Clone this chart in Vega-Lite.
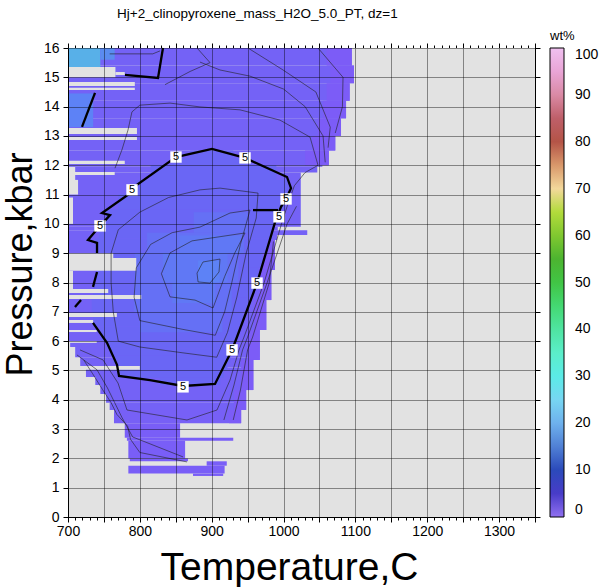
{
"$schema": "https://vega.github.io/schema/vega-lite/v6.json",
"width": 467, "height": 469,
"autosize": {"type": "none"},
"padding": {"left": 68, "top": 48, "right": 67, "bottom": 70},
"background": "white",
"view": {"fill": "#e2e2e2", "stroke": "#000", "strokeWidth": 1},
"title": {"text": "Hj+2_clinopyroxene_mass_H2O_5.0_PT, dz=1", "anchor": "start", "frame": "group", "dx": 49, "offset": -1, "fontSize": 13.5, "font": "Liberation Sans", "fontWeight": "normal", "baseline": "alphabetic", "color": "#000"},
"config": {
  "view": {"fill": "#e2e2e2", "stroke": "#000", "strokeWidth": 1},
  "axis": {"domainColor": "#000", "tickColor": "#000", "labelColor": "#000", "titleColor": "#000", "labelFont": "Liberation Sans", "titleFont": "Liberation Sans", "titleFontWeight": "normal", "labelFontSize": 14, "labelFlush": false, "labelOverlap": false, "gridColor": "#000", "gridOpacity": 0.42}
},
"datasets": {
  "fills": [
    {"t0":700,"t1":1350,"p0":0,"p1":16,"z":-1},
    {"t0":700,"t1":1095,"p0":15.4,"p1":16,"z":3.5},
    {"t0":700,"t1":1098,"p0":14.8,"p1":15.4,"z":3.5},
    {"t0":700,"t1":1092,"p0":14.2,"p1":14.8,"z":3.5},
    {"t0":700,"t1":1087,"p0":13.6,"p1":14.2,"z":3.5},
    {"t0":700,"t1":1080,"p0":13.0,"p1":13.6,"z":3.5},
    {"t0":700,"t1":1072,"p0":12.5,"p1":13.0,"z":3.5},
    {"t0":700,"t1":1063,"p0":12.0,"p1":12.5,"z":3.5},
    {"t0":700,"t1":1054,"p0":11.95,"p1":12.0,"z":3.5},
    {"t0":700,"t1":1047,"p0":11.75,"p1":11.95,"z":3.5},
    {"t0":700,"t1":1024,"p0":9.9,"p1":11.75,"z":3.5},
    {"t0":700,"t1":992,"p0":9.78,"p1":9.9,"z":3.5},
    {"t0":700,"t1":1033,"p0":9.62,"p1":9.78,"z":3.5},
    {"t0":700,"t1":991,"p0":9.45,"p1":9.62,"z":3.5},
    {"t0":700,"t1":988,"p0":8.43,"p1":9.45,"z":3.5},
    {"t0":700,"t1":983,"p0":7.4,"p1":8.43,"z":3.5},
    {"t0":700,"t1":976,"p0":6.38,"p1":7.4,"z":3.5},
    {"t0":700,"t1":967,"p0":6.0,"p1":6.38,"z":3.5},
    {"t0":703,"t1":967,"p0":5.8,"p1":6.0,"z":3.5},
    {"t0":710,"t1":967,"p0":5.45,"p1":5.8,"z":3.5},
    {"t0":717,"t1":967,"p0":5.36,"p1":5.45,"z":3.5},
    {"t0":717,"t1":958,"p0":5.1,"p1":5.36,"z":3.5},
    {"t0":725,"t1":958,"p0":4.78,"p1":5.1,"z":3.5},
    {"t0":738,"t1":958,"p0":4.5,"p1":4.78,"z":3.5},
    {"t0":745,"t1":958,"p0":4.33,"p1":4.5,"z":3.5},
    {"t0":745,"t1":948,"p0":4.2,"p1":4.33,"z":3.5},
    {"t0":753,"t1":948,"p0":3.9,"p1":4.2,"z":3.5},
    {"t0":758,"t1":948,"p0":3.65,"p1":3.9,"z":3.5},
    {"t0":764,"t1":941,"p0":3.2,"p1":3.65,"z":3},
    {"t0":779,"t1":856,"p0":2.7,"p1":3.2,"z":2.5},
    {"t0":782,"t1":930,"p0":2.6,"p1":2.7,"z":2.5},
    {"t0":784,"t1":863,"p0":2.0,"p1":2.6,"z":2.5},
    {"t0":786,"t1":867,"p0":1.9,"p1":2.0,"z":2.5},
    {"t0":893,"t1":921,"p0":1.75,"p1":1.9,"z":2.5},
    {"t0":784,"t1":918,"p0":1.48,"p1":1.75,"z":2.5},
    {"t0":874,"t1":916,"p0":1.4,"p1":1.48,"z":2.5},
    {"t0":971,"t1":988,"p0":8.43,"p1":9.45,"z":2},
    {"t0":966,"t1":983,"p0":7.4,"p1":8.43,"z":2},
    {"t0":959,"t1":976,"p0":6.38,"p1":7.4,"z":2},
    {"t0":950,"t1":967,"p0":5.36,"p1":6.38,"z":2},
    {"t0":941,"t1":958,"p0":4.33,"p1":5.36,"z":2},
    {"t0":931,"t1":948,"p0":3.65,"p1":4.33,"z":2},
    {"t0":924,"t1":941,"p0":3.2,"p1":3.65,"z":2},
    {"t0":1060,"t1":1095,"p0":15.4,"p1":16,"z":2},
    {"t0":1065,"t1":1098,"p0":14.8,"p1":15.4,"z":2},
    {"t0":1060,"t1":1092,"p0":14.2,"p1":14.8,"z":2},
    {"t0":1055,"t1":1087,"p0":13.6,"p1":14.2,"z":2},
    {"t0":1048,"t1":1080,"p0":13.0,"p1":13.6,"z":2},
    {"t0":1040,"t1":1072,"p0":12.5,"p1":13.0,"z":2},
    {"t0":1030,"t1":1063,"p0":12.0,"p1":12.5,"z":2},
    {"t0":828,"t1":912,"p0":4.5,"p1":4.75,"z":6},
    {"t0":772,"t1":917,"p0":4.75,"p1":5.0,"z":6},
    {"t0":768,"t1":922,"p0":5.0,"p1":5.25,"z":6},
    {"t0":763,"t1":926,"p0":5.25,"p1":5.5,"z":6},
    {"t0":758,"t1":929,"p0":5.5,"p1":5.75,"z":6},
    {"t0":754,"t1":932,"p0":5.75,"p1":6.0,"z":6},
    {"t0":745,"t1":937,"p0":6.0,"p1":6.5,"z":6},
    {"t0":735,"t1":944,"p0":6.5,"p1":7.0,"z":6},
    {"t0":733,"t1":951,"p0":7.0,"p1":7.5,"z":6},
    {"t0":735,"t1":958,"p0":7.5,"p1":8.0,"z":6},
    {"t0":740,"t1":965,"p0":8.0,"p1":8.5,"z":6},
    {"t0":740,"t1":971,"p0":8.5,"p1":9.0,"z":6},
    {"t0":738,"t1":978,"p0":9.0,"p1":9.5,"z":6},
    {"t0":743,"t1":985,"p0":9.5,"p1":10.0,"z":6},
    {"t0":753,"t1":993,"p0":10.0,"p1":10.5,"z":6},
    {"t0":770,"t1":1002,"p0":10.5,"p1":11.0,"z":6},
    {"t0":793,"t1":1007,"p0":11.0,"p1":11.5,"z":6},
    {"t0":815,"t1":990,"p0":11.5,"p1":12.0,"z":6},
    {"t0":843,"t1":955,"p0":12.0,"p1":12.25,"z":6},
    {"t0":870,"t1":930,"p0":12.25,"p1":12.5,"z":6},
    {"t0":800,"t1":915,"p0":6.3,"p1":7.0,"z":7.5},
    {"t0":792,"t1":928,"p0":7.0,"p1":8.0,"z":7.5},
    {"t0":793,"t1":937,"p0":8.0,"p1":9.0,"z":7.5},
    {"t0":810,"t1":945,"p0":9.0,"p1":9.7,"z":7.5},
    {"t0":875,"t1":950,"p0":9.7,"p1":10.4,"z":7.5},
    {"t0":845,"t1":905,"p0":7.3,"p1":8.0,"z":9},
    {"t0":832,"t1":922,"p0":8.0,"p1":9.0,"z":9},
    {"t0":855,"t1":940,"p0":9.0,"p1":9.6,"z":9},
    {"t0":881,"t1":911,"p0":8.0,"p1":8.75,"z":10},
    {"t0":700,"t1":745,"p0":15.35,"p1":16,"z":18},
    {"t0":745,"t1":765,"p0":15.6,"p1":16,"z":12},
    {"t0":700,"t1":735,"p0":13.3,"p1":14.45,"z":10},
    {"t0":700,"t1":766,"p0":15.0,"p1":15.35,"z":-1},
    {"t0":766,"t1":779,"p0":15.08,"p1":15.18,"z":-1},
    {"t0":700,"t1":793,"p0":14.7,"p1":14.84,"z":-1},
    {"t0":700,"t1":793,"p0":14.57,"p1":14.64,"z":-1},
    {"t0":700,"t1":796,"p0":13.07,"p1":13.27,"z":-1},
    {"t0":700,"t1":796,"p0":12.86,"p1":12.96,"z":-1},
    {"t0":700,"t1":779,"p0":12.04,"p1":12.15,"z":-1},
    {"t0":700,"t1":765,"p0":11.67,"p1":11.77,"z":-1},
    {"t0":700,"t1":710,"p0":11.15,"p1":11.94,"z":-1},
    {"t0":700,"t1":714,"p0":11.0,"p1":11.5,"z":-1},
    {"t0":700,"t1":707,"p0":10.0,"p1":10.9,"z":-1},
    {"t0":700,"t1":763,"p0":8.84,"p1":9.0,"z":-1},
    {"t0":700,"t1":795,"p0":8.4,"p1":8.84,"z":-1},
    {"t0":700,"t1":707,"p0":7.75,"p1":8.4,"z":-1},
    {"t0":700,"t1":756,"p0":7.64,"p1":7.78,"z":-1},
    {"t0":700,"t1":802,"p0":7.44,"p1":7.57,"z":-1},
    {"t0":700,"t1":768,"p0":6.82,"p1":6.96,"z":-1},
    {"t0":700,"t1":735,"p0":6.62,"p1":6.72,"z":-1},
    {"t0":700,"t1":740,"p0":6.31,"p1":6.38,"z":-1},
    {"t0":700,"t1":740,"p0":5.94,"p1":6.0,"z":-1},
    {"t0":700,"t1":800,"p0":5.02,"p1":5.15,"z":-1}
  ],
  "thin": [
    {"c":"a","o":1,"T":887.9,"P":8.70},{"c":"a","o":2,"T":911.6,"P":8.80},{"c":"a","o":3,"T":910.2,"P":8.36},{"c":"a","o":4,"T":897.7,"P":7.98},{"c":"a","o":5,"T":881,"P":8.02},{"c":"a","o":6,"T":879.6,"P":8.32},{"c":"a","o":7,"T":887.9,"P":8.70},
    {"c":"c8","o":1,"T":842,"P":9.01},{"c":"c8","o":2,"T":872.6,"P":9.42},{"c":"c8","o":3,"T":946.4,"P":9.69},{"c":"c8","o":4,"T":932,"P":9.0},{"c":"c8","o":5,"T":918,"P":8.2},{"c":"c8","o":6,"T":901.8,"P":7.13},{"c":"c8","o":7,"T":876.8,"P":7.40},{"c":"c8","o":8,"T":842,"P":7.51},{"c":"c8","o":9,"T":830,"P":8.3},{"c":"c8","o":10,"T":842,"P":9.01},
    {"c":"c7","o":1,"T":800,"P":6.7},{"c":"c7","o":2,"T":860,"P":6.4},{"c":"c7","o":3,"T":905,"P":6.2},{"c":"c7","o":4,"T":918,"P":7.0},{"c":"c7","o":5,"T":928,"P":8.0},{"c":"c7","o":6,"T":940,"P":9.3},{"c":"c7","o":7,"T":953.3,"P":10.47},{"c":"c7","o":8,"T":925.5,"P":10.37},{"c":"c7","o":9,"T":883.7,"P":9.89},{"c":"c7","o":10,"T":845,"P":9.7},{"c":"c7","o":11,"T":815,"P":9.3},{"c":"c7","o":12,"T":795,"P":8.5},{"c":"c7","o":13,"T":792,"P":7.5},{"c":"c7","o":14,"T":800,"P":6.7},
    {"c":"c6","o":1,"T":770,"P":6.0},{"c":"c6","o":2,"T":800,"P":5.8},{"c":"c6","o":3,"T":860,"P":5.6},{"c":"c6","o":4,"T":907,"P":5.45},{"c":"c6","o":5,"T":922,"P":6.3},{"c":"c6","o":6,"T":935,"P":7.5},{"c":"c6","o":7,"T":948,"P":9.0},{"c":"c6","o":8,"T":962,"P":10.2},{"c":"c6","o":9,"T":964.5,"P":11.05},{"c":"c6","o":10,"T":911.6,"P":11.22},{"c":"c6","o":11,"T":883.7,"P":11.16},{"c":"c6","o":12,"T":840,"P":10.9},{"c":"c6","o":13,"T":800,"P":10.4},{"c":"c6","o":14,"T":770,"P":9.8},{"c":"c6","o":15,"T":760,"P":9.0},{"c":"c6","o":16,"T":760,"P":8.0},{"c":"c6","o":17,"T":763,"P":7.0},{"c":"c6","o":18,"T":770,"P":6.0},
    {"c":"c4","o":1,"T":716.7,"P":5.70},{"c":"c4","o":2,"T":748.7,"P":5.36},{"c":"c4","o":3,"T":769.6,"P":4.57},{"c":"c4","o":4,"T":782.1,"P":3.65},{"c":"c4","o":5,"T":865.6,"P":3.31},{"c":"c4","o":6,"T":907.4,"P":3.65},{"c":"c4","o":7,"T":925.5,"P":4.67},{"c":"c4","o":8,"T":938,"P":5.70},{"c":"c4","o":9,"T":945,"P":6.14},{"c":"c4","o":10,"T":972.8,"P":7.98},{"c":"c4","o":11,"T":997.9,"P":10.06},{"c":"c4","o":12,"T":1005,"P":10.6},{"c":"c4","o":13,"T":1015,"P":11.3},{"c":"c4","o":14,"T":1030,"P":11.75},{"c":"c4","o":15,"T":1048,"P":12.0},{"c":"c4","o":16,"T":1036.9,"P":12.96},{"c":"c4","o":17,"T":995,"P":13.54},{"c":"c4","o":18,"T":939.4,"P":13.89},{"c":"c4","o":19,"T":883.7,"P":13.99},{"c":"c4","o":20,"T":842,"P":14.12},{"c":"c4","o":21,"T":800,"P":14.05},{"c":"c4","o":22,"T":789,"P":13.82},{"c":"c4","o":23,"T":783.5,"P":13.2},{"c":"c4","o":24,"T":775,"P":12.52},{"c":"c4","o":25,"T":765.4,"P":11.9},
    {"c":"c3a","o":1,"T":1018,"P":10.6},{"c":"c3a","o":2,"T":1005,"P":10.0},{"c":"c3a","o":3,"T":977,"P":7.98},{"c":"c3a","o":4,"T":950,"P":6.14},{"c":"c3a","o":5,"T":943,"P":5.70},{"c":"c3a","o":6,"T":931,"P":4.50},{"c":"c3a","o":7,"T":917,"P":3.31},
    {"c":"c3b","o":1,"T":860.1,"P":2.05},{"c":"c3b","o":2,"T":790,"P":2.73},{"c":"c3b","o":3,"T":775,"P":3.4},{"c":"c3b","o":4,"T":765,"P":3.9},{"c":"c3b","o":5,"T":755,"P":4.4},{"c":"c3b","o":6,"T":740.4,"P":5.02},{"c":"c3b","o":7,"T":712.5,"P":5.53},
    {"c":"c2a","o":1,"T":986,"P":9.4},{"c":"c2a","o":2,"T":980,"P":7.98},{"c":"c2a","o":3,"T":957,"P":6.14},{"c":"c2a","o":4,"T":950,"P":5.70},{"c":"c2a","o":5,"T":940,"P":4.33},{"c":"c2a","o":6,"T":930,"P":3.31},
    {"c":"c2b","o":1,"T":865.6,"P":1.88},{"c":"c2b","o":2,"T":800,"P":2.2},{"c":"c2b","o":3,"T":787,"P":2.65},{"c":"c2b","o":4,"T":783,"P":3.1},{"c":"c2b","o":5,"T":768,"P":3.5},{"c":"c2b","o":6,"T":760,"P":3.9},{"c":"c2b","o":7,"T":748,"P":4.35},{"c":"c2b","o":8,"T":734,"P":4.9},{"c":"c2b","o":9,"T":722,"P":5.35},
    {"c":"c3u","o":1,"T":883.7,"P":15.52},{"c":"c3u","o":2,"T":911.6,"P":15.25},{"c":"c3u","o":3,"T":953.3,"P":15.04},{"c":"c3u","o":4,"T":1000,"P":14.6},{"c":"c3u","o":5,"T":1030,"P":14.0},{"c":"c3u","o":6,"T":1055,"P":13.0},{"c":"c3u","o":7,"T":1058,"P":12.1},
    {"c":"c2u","o":1,"T":950.5,"P":16},{"c":"c2u","o":2,"T":999.3,"P":15.25},{"c":"c2u","o":3,"T":1045,"P":14.5},{"c":"c2u","o":4,"T":1065,"P":13.3},{"c":"c2u","o":5,"T":1062,"P":12.6},
    {"c":"c1u","o":1,"T":1048,"P":16},{"c":"c1u","o":2,"T":1082.8,"P":15.0},{"c":"c1u","o":3,"T":1082,"P":14.0},{"c":"c1u","o":4,"T":1072,"P":13.1},
    {"c":"c6u","o":1,"T":758,"P":15.8},{"c":"c6u","o":2,"T":818,"P":15.8},{"c":"c6u","o":3,"T":828,"P":15.9},
    {"c":"c4t","o":1,"T":879.6,"P":16},{"c":"c4t","o":2,"T":897.7,"P":15.5},{"c":"c4t","o":3,"T":870,"P":15.2},{"c":"c4t","o":4,"T":835,"P":14.75}
  ],
  "thick": [
    {"c":"k1","o":1,"T":740.4,"P":8.36},{"c":"k1","o":2,"T":734.8,"P":7.85},
    {"c":"k2","o":1,"T":718.1,"P":7.40},{"c":"k2","o":2,"T":709.7,"P":7.16},
    {"c":"k3","o":1,"T":734.8,"P":6.62},{"c":"k3","o":2,"T":754.3,"P":5.94},{"c":"k3","o":3,"T":768.2,"P":5.19},{"c":"k3","o":4,"T":771,"P":4.81},{"c":"k3","o":5,"T":814.1,"P":4.67},{"c":"k3","o":6,"T":860.1,"P":4.47},{"c":"k3","o":7,"T":904.6,"P":4.54},{"c":"k3","o":8,"T":928.3,"P":5.70},{"c":"k3","o":9,"T":935.2,"P":6.14},{"c":"k3","o":10,"T":963.1,"P":7.98},{"c":"k3","o":11,"T":988.2,"P":10.06},{"c":"k3","o":12,"T":996.5,"P":10.58},{"c":"k3","o":13,"T":1003.5,"P":10.85},{"c":"k3","o":14,"T":1010.4,"P":11.22},{"c":"k3","o":15,"T":1004.8,"P":11.60},{"c":"k3","o":16,"T":946.4,"P":12.25},{"c":"k3","o":17,"T":900.4,"P":12.56},{"c":"k3","o":18,"T":850.3,"P":12.28},{"c":"k3","o":19,"T":796.0,"P":11.33},{"c":"k3","o":20,"T":789.1,"P":11.09},{"c":"k3","o":21,"T":747.3,"P":10.37},{"c":"k3","o":22,"T":758.5,"P":10.30},{"c":"k3","o":23,"T":743.2,"P":9.89},{"c":"k3","o":24,"T":727.8,"P":9.45},{"c":"k3","o":25,"T":740.4,"P":9.35},{"c":"k3","o":26,"T":740.4,"P":9.01},
    {"c":"k4","o":1,"T":957.5,"P":10.47},{"c":"k4","o":2,"T":992.3,"P":10.47},
    {"c":"k5","o":1,"T":779.3,"P":15.08},{"c":"k5","o":2,"T":825.3,"P":14.98},{"c":"k5","o":3,"T":832.2,"P":16.0},
    {"c":"k6","o":1,"T":737.6,"P":14.47},{"c":"k6","o":2,"T":719.5,"P":13.31}
  ],
  "labels": [
    {"T":850.3,"P":12.28,"lab":"5"},{"T":946.4,"P":12.25,"lab":"5"},{"T":789.1,"P":11.16,"lab":"5"},{"T":744.5,"P":9.93,"lab":"5"},{"T":1003.5,"P":10.85,"lab":"5"},{"T":993.7,"P":10.24,"lab":"5"},{"T":963.1,"P":7.98,"lab":"5"},{"T":928.3,"P":5.70,"lab":"5"},{"T":860.1,"P":4.44,"lab":"5"}
  ]
},
"layer": [
  {
    "data": {"name": "fills"},
    "mark": {"type": "rect"},
    "encoding": {
      "x": {"field": "t0", "type": "quantitative", "scale": {"domain": [700, 1350], "nice": false, "zero": false},
            "axis": {"orient": "bottom", "values": [700,750,800,850,900,950,1000,1050,1100,1150,1200,1250,1300,1350], "labelExpr": "datum.value % 100 == 0 ? '' + datum.value : ''", "grid": true, "zindex": 1, "tickSize": 5, "labelPadding": 2, "title": "Temperature,C", "titleFontSize": 39, "titleX": 221, "titleY": 62, "titleAlign": "center", "titleBaseline": "alphabetic"}},
      "x2": {"field": "t1"},
      "y": {"field": "p0", "type": "quantitative", "scale": {"domain": [0, 16], "nice": false},
            "axis": {"orient": "left", "values": [0,1,2,3,4,5,6,7,8,9,10,11,12,13,14,15,16], "grid": true, "zindex": 1, "tickSize": 5, "labelPadding": 4, "title": "Pressure,kbar", "titleFontSize": 36, "titleX": -37, "titleY": 216, "titleAngle": -90, "titleAlign": "center", "titleBaseline": "alphabetic"}},
      "y2": {"field": "p1"},
      "color": {"field": "z", "type": "quantitative", "legend": null,
                "scale": {"domain": [-1, 0, 2, 3.5, 6, 7.5, 9, 10, 12, 18], "range": ["#e2e2e2", "#e2e2e2", "#7c5cf7", "#7462f6", "#6a66f5", "#6570f5", "#6078f5", "#5d82f6", "#5a8cf0", "#58b0e8"]}}
    }
  },
  {
    "data": {"name": "thin"},
    "mark": {"type": "line", "color": "#222", "strokeWidth": 0.6},
    "encoding": {
      "x": {"field": "T", "type": "quantitative", "axis": {"orient": "top", "values": [700,710,720,730,740,750,760,770,780,790,800,810,820,830,840,850,860,870,880,890,900,910,920,930,940,950,960,970,980,990,1000,1010,1020,1030,1040,1050,1060,1070,1080,1090,1100,1110,1120,1130,1140,1150,1160,1170,1180,1190,1200,1210,1220,1230,1240,1250,1260,1270,1280,1290,1300,1310,1320,1330,1340,1350], "labels": false, "grid": false, "tickSize": 3, "title": null}},
      "y": {"field": "P", "type": "quantitative", "axis": {"orient": "right", "values": [0,1,2,3,4,5,6,7,8,9,10,11,12,13,14,15,16], "labels": false, "grid": false, "tickSize": 5, "title": null}},
      "detail": {"field": "c"},
      "order": {"field": "o"}
    }
  },
  {
    "data": {"name": "thick"},
    "mark": {"type": "line", "color": "#000", "strokeWidth": 2.3},
    "encoding": {
      "x": {"field": "T", "type": "quantitative", "axis": {"orient": "bottom", "values": [700,710,720,730,740,750,760,770,780,790,800,810,820,830,840,850,860,870,880,890,900,910,920,930,940,950,960,970,980,990,1000,1010,1020,1030,1040,1050,1060,1070,1080,1090,1100,1110,1120,1130,1140,1150,1160,1170,1180,1190,1200,1210,1220,1230,1240,1250,1260,1270,1280,1290,1300,1310,1320,1330,1340,1350], "labels": false, "grid": false, "tickSize": 3, "title": null}},
      "y": {"field": "P", "type": "quantitative", "axis": null},
      "detail": {"field": "c"},
      "order": {"field": "o"}
    }
  },
  {
    "data": {"name": "labels"},
    "mark": {"type": "point", "shape": "square", "filled": true, "color": "white", "size": 130, "opacity": 1},
    "encoding": {
      "x": {"field": "T", "type": "quantitative", "axis": {"orient": "top", "values": [700,750,800,850,900,950,1000,1050,1100,1150,1200,1250,1300,1350], "labels": false, "grid": false, "tickSize": 5, "title": null}},
      "y": {"field": "P", "type": "quantitative", "axis": null}
    }
  },
  {
    "data": {"name": "labels"},
    "mark": {"type": "text", "font": "Liberation Sans", "fontSize": 11, "color": "#000", "baseline": "middle", "align": "center"},
    "encoding": {
      "x": {"field": "T", "type": "quantitative", "axis": null},
      "y": {"field": "P", "type": "quantitative", "axis": null},
      "text": {"field": "lab"}
    }
  },
  {
    "data": {"values": [{"v": 0}, {"v": 100}]},
    "mark": {"type": "point", "filled": true, "size": 0, "opacity": 1},
    "encoding": {
      "fill": {"field": "v", "type": "quantitative",
        "scale": {"domain": [0, 4, 8, 12, 18, 24, 28, 34, 42, 48, 54, 60, 66.5, 67, 72, 78, 82, 88, 94, 100],
                  "range": ["#9070f0", "#5040d0", "#3030b0", "#3060c0", "#70a0e8", "#80d0f0", "#60e8f0", "#60f0d0", "#50e090", "#40d050", "#40b030", "#80c830", "#c0e040", "#f8f0b0", "#f0c890", "#c06850", "#a84040", "#d08090", "#e8a0d0", "#f0c0f0"]},
        "legend": {"title": "wt%", "orient": "none", "legendX": 482, "legendY": -18, "direction": "vertical", "gradientLength": 469, "gradientThickness": 14, "values": [0,10,20,30,40,50,60,70,80,90,100], "labelFontSize": 14, "labelFont": "Liberation Sans", "labelColor": "#000", "labelOffset": 11, "labelOverlap": false, "titleFontSize": 13, "titleFont": "Liberation Sans", "titleFontWeight": "normal", "titleColor": "#000", "titlePadding": 5, "gradientStrokeColor": "#000", "gradientStrokeWidth": 1}}
    }
  }
],
"resolve": {"axis": {"x": "independent", "y": "independent"}}
}
